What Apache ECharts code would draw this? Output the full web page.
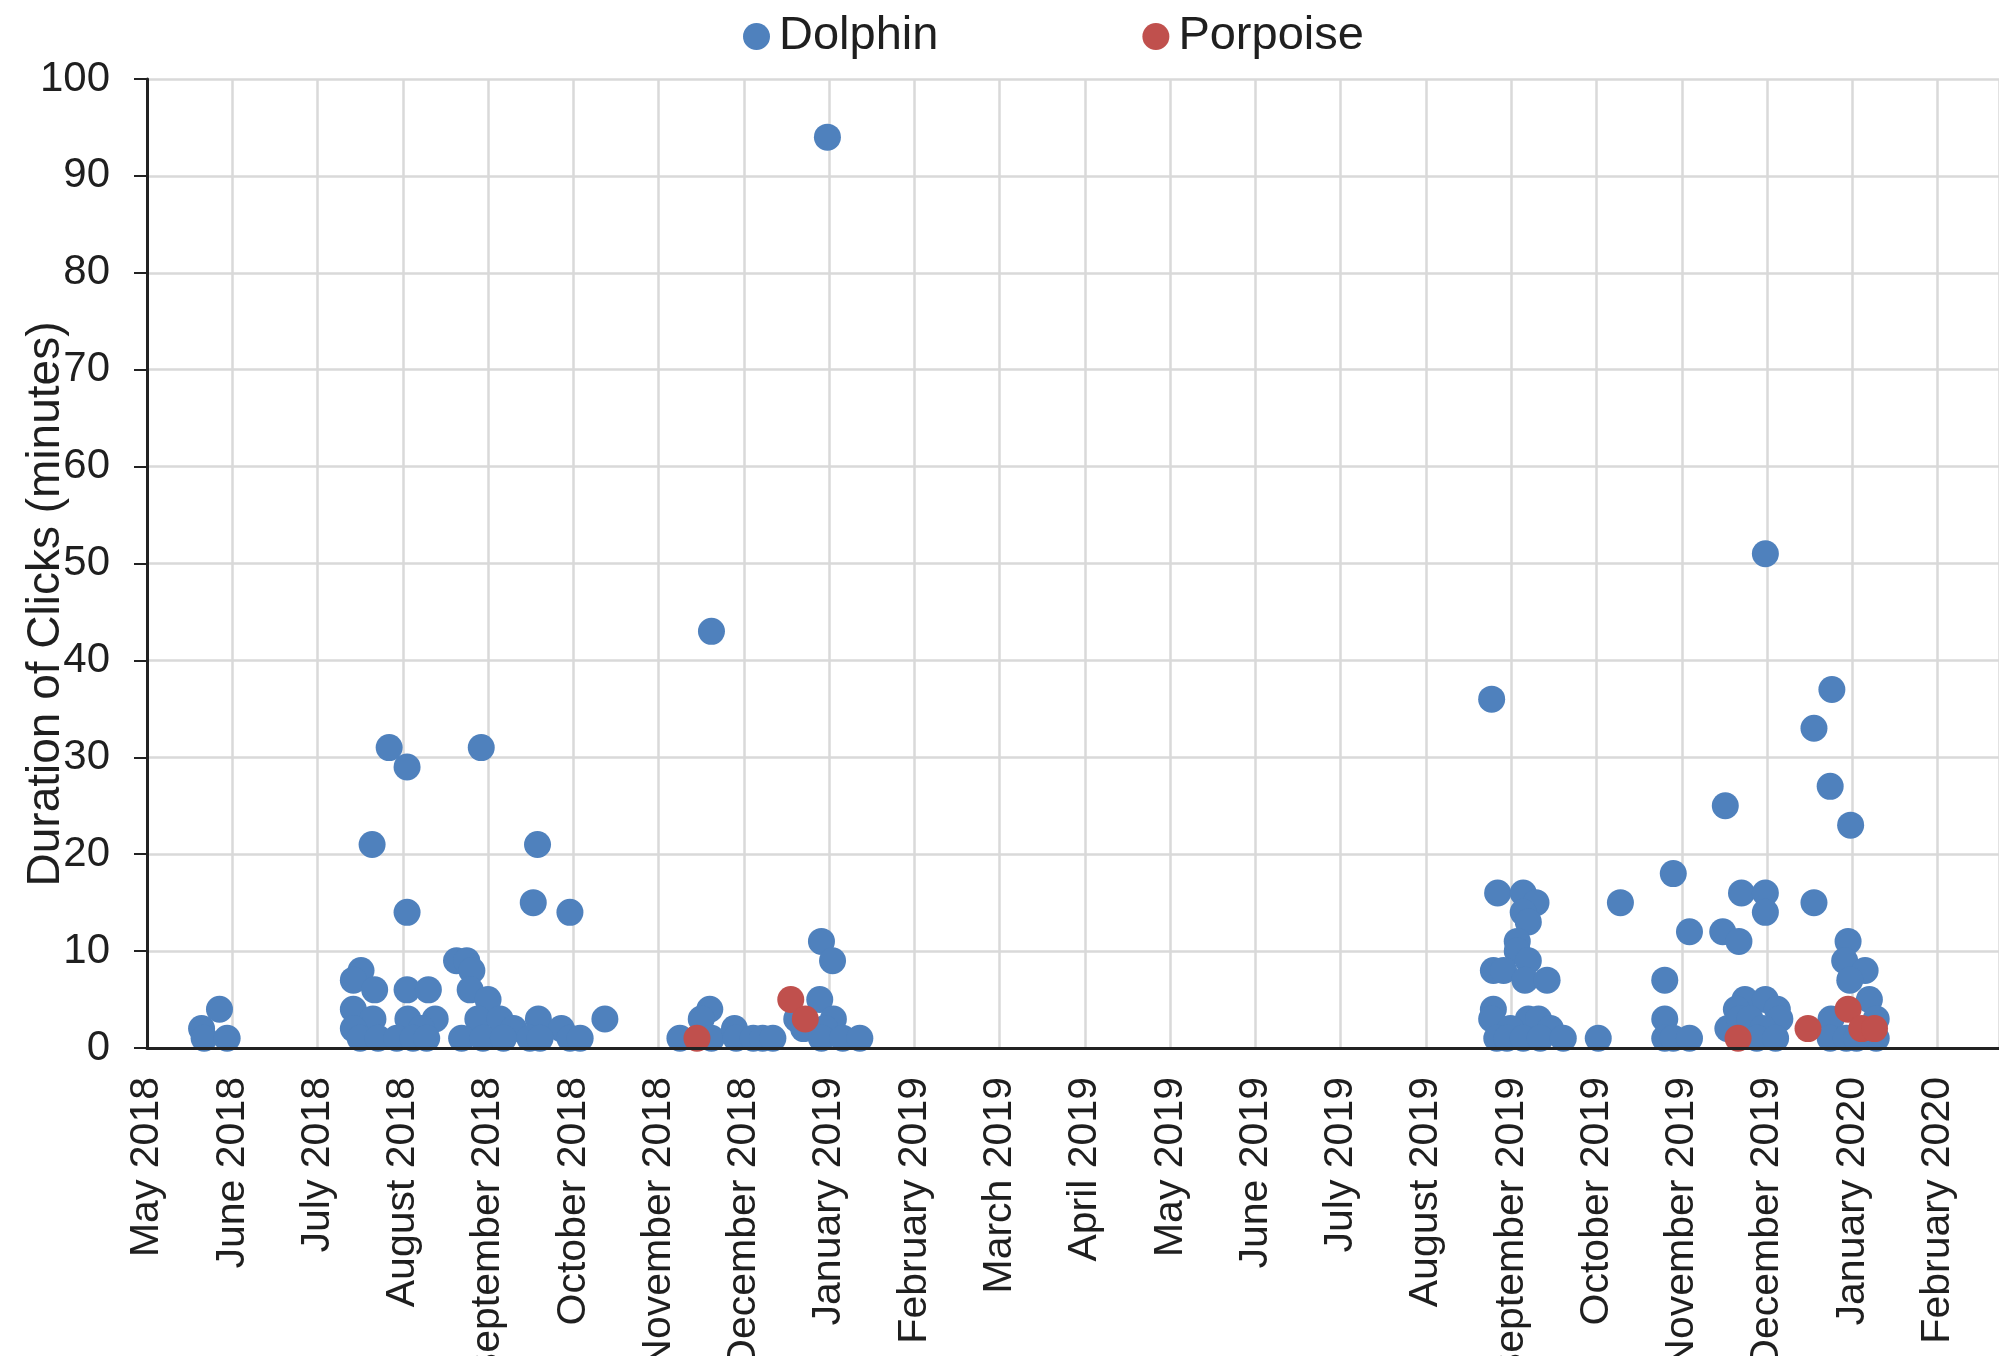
<!DOCTYPE html>
<html>
<head>
<meta charset="utf-8">
<script src="https://cdn.jsdelivr.net/npm/echarts@6/dist/echarts.min.js"></script>
<style>
  html, body { margin: 0; padding: 0; background: #ffffff; }
  #chart { width: 1999px; height: 1356px; }
</style>
</head>
<body>
<div id="chart"></div>
<script>
// Tick labels: one per month, starting at May 2018 (x = 0)
const monthLabels = [
  'May 2018', 'June 2018', 'July 2018', 'August 2018', 'September 2018',
  'October 2018', 'November 2018', 'December 2018', 'January 2019',
  'February 2019', 'March 2019', 'April 2019', 'May 2019', 'June 2019',
  'July 2019', 'August 2019', 'September 2019', 'October 2019',
  'November 2019', 'December 2019', 'January 2020', 'February 2020'
];

const yTicks = [0, 10, 20, 30, 40, 50, 60, 70, 80, 90, 100];

// Dolphin detections: [months since May 2018, duration in minutes]
const dolphinMay2018 = [
  [0.64, 2], [0.67, 1], [0.85, 4], [0.94, 1]
];
const dolphinSummer2018 = [
  [2.84, 31], [3.05, 29], [3.92, 31], [2.64, 21], [4.58, 21], [3.05, 14],
  [4.53, 15], [4.96, 14],
  [2.51, 8], [2.42, 7], [2.67, 6], [3.05, 6], [3.30, 6], [3.63, 9], [3.75, 9],
  [3.81, 8], [3.79, 6], [4.00, 5],
  [2.42, 4], [2.65, 3], [2.42, 2], [3.06, 3], [3.38, 3], [3.22, 2], [3.88, 3],
  [4.14, 3], [4.59, 3], [5.37, 3], [4.86, 2], [4.30, 2],
  [2.50, 1], [2.71, 1], [2.93, 1], [3.12, 1], [3.28, 1], [3.69, 1], [3.94, 1],
  [4.18, 1], [4.49, 1], [4.61, 1], [4.96, 1], [5.08, 1]
];
const dolphinWinter2018 = [
  [6.25, 1], [6.60, 4], [6.50, 3], [6.62, 1], [6.89, 2], [6.91, 1], [7.11, 1],
  [7.22, 1], [7.34, 1], [6.62, 43],
  [7.98, 94], [7.91, 11], [8.04, 9], [7.89, 5], [7.62, 3], [7.70, 2], [8.05, 3],
  [7.95, 2], [7.91, 1], [8.16, 1], [8.36, 1]
];
const dolphinAutumn2019 = [
  [15.77, 36], [15.84, 16], [16.14, 16], [16.29, 15], [16.14, 14], [16.20, 13],
  [16.07, 11], [16.07, 10], [16.20, 9], [15.79, 8], [15.91, 8], [16.16, 7],
  [16.42, 7], [15.79, 4], [15.77, 3], [16.20, 3], [16.32, 3], [16.46, 2],
  [15.99, 2], [15.83, 1], [15.95, 1], [16.14, 1], [16.34, 1], [16.61, 1],
  [17.02, 1], [17.28, 15]
];
const dolphinWinter2019 = [
  [17.90, 18], [17.80, 7], [17.80, 3], [17.80, 1], [17.90, 1], [18.09, 1],
  [18.09, 12], [18.48, 12], [18.67, 11], [18.70, 16], [18.98, 16], [18.98, 14],
  [18.51, 25], [18.98, 51],
  [18.74, 5], [18.98, 5], [18.64, 4], [19.12, 4], [18.54, 2], [19.15, 3],
  [18.68, 3], [18.80, 3], [18.95, 2], [18.88, 1], [19.10, 1],
  [19.55, 15], [19.55, 33], [19.76, 37], [19.74, 27], [19.98, 23], [19.95, 11],
  [19.91, 9], [20.15, 8], [19.97, 7], [20.20, 5], [19.75, 3], [20.28, 3],
  [20.20, 2], [20.28, 1], [19.74, 1], [19.93, 1], [20.05, 1]
];

// Porpoise detections: [months since May 2018, duration in minutes]
const porpoise = [
  [6.45, 1], [7.55, 5], [7.72, 3], [18.66, 1], [19.48, 2], [19.95, 4],
  [20.11, 2], [20.26, 2]
];

const dolphin = [].concat(dolphinMay2018, dolphinSummer2018, dolphinWinter2018,
  dolphinAutumn2019, dolphinWinter2019);

const FONT = "'Liberation Sans', Arial, sans-serif";
const TEXT = '#1f1f1f';
const AXIS = '#222222';
const GRID = '#d9d9d9';
const X_MAX = 21.72;

const chart = echarts.init(document.getElementById('chart'), null, { renderer: 'canvas' });

chart.setOption({
  animation: false,
  backgroundColor: '#ffffff',
  textStyle: { fontFamily: FONT },
  legend: {
    left: 738,
    top: 8,
    itemWidth: 27,
    itemHeight: 27,
    itemGap: 204,
    icon: 'circle',
    textStyle: { fontFamily: FONT, fontSize: 47, color: TEXT, padding: [0, 0, 0, 4] },
    data: ['Dolphin', 'Porpoise']
  },
  grid: {
    left: 147, top: 79, right: 0, bottom: 308,
    containLabel: false,
    outerBoundsMode: 'none'
  },
  xAxis: [
    {
      type: 'value',
      min: 0,
      max: X_MAX,
      interval: 1,
      axisLine: { show: false },
      axisTick: { show: false },
      splitLine: { show: true, lineStyle: { color: GRID, width: 2.5 } },
      axisLabel: {
        rotate: 90,
        margin: 29,
        fontFamily: FONT,
        fontSize: 41,
        color: TEXT,
        showMaxLabel: false,
        hideOverlap: false,
        formatter: function (v) {
          return Number.isInteger(v) && monthLabels[v] ? monthLabels[v] : '';
        }
      }
    },
    {
      type: 'value',
      min: 0,
      max: X_MAX,
      interval: 1,
      position: 'bottom',
      z: 5,
      axisLine: { show: true, onZero: false, lineStyle: { color: AXIS, width: 3 } },
      axisTick: { show: false },
      axisLabel: { show: false },
      splitLine: { show: false }
    }
  ],
  yAxis: {
    type: 'value',
    min: yTicks[0],
    max: yTicks[yTicks.length - 1],
    interval: 10,
    axisLine: { show: true, lineStyle: { color: AXIS, width: 3 } },
    axisTick: { show: true, inside: false, length: 13, lineStyle: { color: AXIS, width: 2 } },
    splitLine: { show: true, lineStyle: { color: GRID, width: 2.5 } },
    axisLabel: { margin: 37, fontFamily: FONT, fontSize: 42, color: TEXT }
  },
  graphic: [
    {
      type: 'text',
      x: 46,
      y: 604,
      rotation: Math.PI / 2,
      style: {
        text: 'Duration of Clicks (minutes)',
        font: '46px ' + FONT,
        fill: TEXT,
        align: 'center',
        verticalAlign: 'middle'
      }
    }
  ],
  series: [
    {
      name: 'Dolphin',
      type: 'scatter',
      xAxisIndex: 0,
      symbol: 'circle',
      symbolSize: 27,
      itemStyle: { color: '#4F81BD', opacity: 1 },
      data: dolphin
    },
    {
      name: 'Porpoise',
      type: 'scatter',
      xAxisIndex: 0,
      symbol: 'circle',
      symbolSize: 27,
      itemStyle: { color: '#C0504D', opacity: 1 },
      data: porpoise
    }
  ]
});
</script>
</body>
</html>
